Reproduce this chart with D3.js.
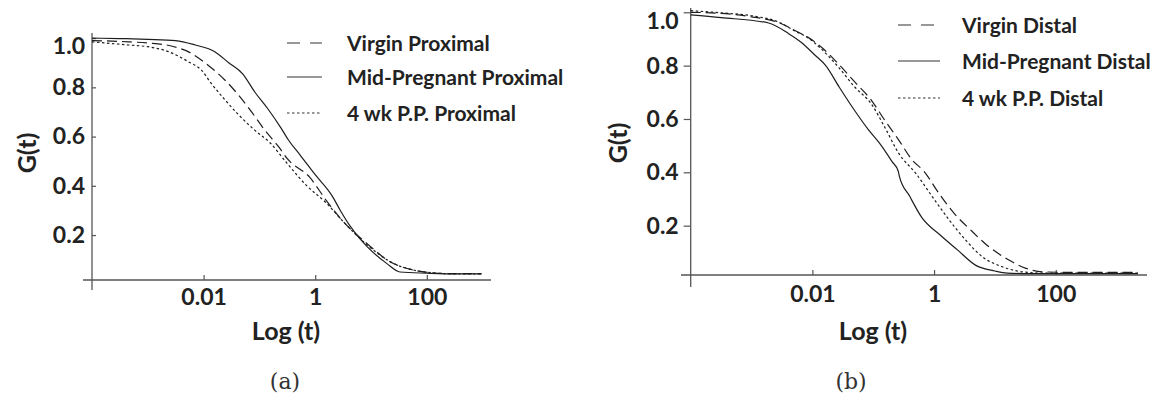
<!DOCTYPE html>
<html>
<head>
  <meta charset="utf-8">
  <title>G(t) proximal / distal</title>
  <script src="https://d3js.org/d3.v7.min.js"></script>
  <style>
    body { margin: 0; background: #fff; }
    .tick text, .lab { font-family: Lato, "Open Sans", sans-serif; font-weight: 700; fill: #222; }
    .cap { font-family: "DejaVu Serif", serif; font-weight: 400; fill: #333; }
    .curve { fill: none; stroke: #1e1e1e; stroke-width: 1.2px; }
  </style>
</head>
<body>
  <svg width="1163" height="408"></svg>
  <script>
    // values, x = log10(t)
    const xTickVals = [0.01, 1, 100];
    const xTickLabels = ["0.01", "1", "100"];
    const yTickVals = [0.2, 0.4, 0.6, 0.8, 1.0];
    const yTickLabels = ["0.2", "0.4", "0.6", "0.8", "1.0"];

    // panel (a) proximal
    const virginProxLogT = [-4, -3.35, -3.0, -2.58, -2.22, -1.92, -1.62, -1.38, -1.14, -0.9, -0.66, -0.5, -0.1, 0.2, 0.5, 0.93, 1.34, 1.76, 2.1, 2.5, 2.98];
    const virginProxG = [0.99, 0.985, 0.98, 0.968, 0.938, 0.89, 0.83, 0.77, 0.70, 0.625, 0.56, 0.51, 0.435, 0.34, 0.255, 0.165, 0.092, 0.058, 0.047, 0.043, 0.043];
    const midPregProxLogT = [-4, -3.5, -3.0, -2.5, -2.15, -1.8, -1.55, -1.3, -1.08, -0.84, -0.6, -0.48, -0.27, 0.0, 0.3, 0.45, 0.63, 0.93, 1.28, 1.52, 2.0, 2.5, 2.98];
    const midPregProxG = [1.0, 0.998, 0.995, 0.99, 0.972, 0.945, 0.9, 0.855, 0.78, 0.71, 0.63, 0.586, 0.525, 0.445, 0.36, 0.30, 0.235, 0.153, 0.085, 0.05, 0.045, 0.042, 0.042];
    const ppProxLogT = [-4, -3.35, -3.0, -2.63, -2.28, -2.04, -1.86, -1.62, -1.38, -1.08, -0.81, -0.5, -0.15, 0.2, 0.5, 0.93, 1.4, 1.76, 2.2, 2.6, 2.98];
    const ppProxG = [0.985, 0.972, 0.965, 0.945, 0.905, 0.87, 0.815, 0.75, 0.69, 0.625, 0.575, 0.49, 0.40, 0.33, 0.255, 0.16, 0.085, 0.058, 0.045, 0.042, 0.042];

    // panel (b) distal
    const virginDistLogT = [-4, -3.5, -2.94, -2.56, -2.28, -2.07, -1.85, -1.57, -1.3, -1.03, -0.81, -0.58, -0.36, -0.17, 0.08, 0.33, 0.6, 0.88, 1.23, 1.51, 1.78, 2.2, 2.6, 3.0, 3.35];
    const virginDistG = [1.0, 0.996, 0.981, 0.962, 0.931, 0.906, 0.869, 0.806, 0.738, 0.67, 0.595, 0.521, 0.446, 0.405, 0.321, 0.246, 0.184, 0.125, 0.071, 0.04, 0.027, 0.025, 0.025, 0.025, 0.025];
    const midPregDistLogT = [-4, -3.5, -2.72, -2.39, -2.18, -1.96, -1.78, -1.56, -1.3, -1.08, -0.9, -0.69, -0.59, -0.57, -0.4, -0.2, 0.1, 0.38, 0.68, 1.0, 1.2, 1.6, 2.0, 2.5, 3.0, 3.35];
    const midPregDistG = [0.99, 0.98, 0.96, 0.92, 0.887, 0.84, 0.80, 0.72, 0.63, 0.56, 0.51, 0.44, 0.405, 0.385, 0.31, 0.23, 0.165, 0.11, 0.052, 0.03, 0.022, 0.02, 0.02, 0.02, 0.02, 0.02];
    const ppDistLogT = [-4, -3.5, -2.94, -2.56, -2.28, -2.07, -1.85, -1.57, -1.3, -1.03, -0.81, -0.58, -0.3, -0.03, 0.25, 0.52, 0.79, 1.12, 1.45, 1.8, 2.5, 3.0, 3.35];
    const ppDistG = [1.006, 0.998, 0.985, 0.964, 0.929, 0.904, 0.862, 0.794, 0.719, 0.656, 0.569, 0.471, 0.396, 0.309, 0.221, 0.146, 0.084, 0.046, 0.027, 0.022, 0.022, 0.022, 0.022];

    const svg = d3.select("svg");
    const dashes = { virgin: "10,5", mid: null, pp: "2.5,2.5" };

    function drawPanel(p) {
      const g = svg.append("g");
      const x = d3.scaleLog().domain([1e-4, Math.pow(10, p.xMaxExp)]).range([p.left, p.right]);
      const y = d3.scaleLinear().domain([0, 1]).range(p.yRange);

      // axis lines, they run a bit past the corner
      g.append("line").attr("x1", p.xAxisStart).attr("x2", p.right)
        .attr("y1", p.axisY).attr("y2", p.axisY).attr("stroke", "#555").attr("stroke-width", 1.3);
      g.append("line").attr("x1", p.left).attr("x2", p.left)
        .attr("y1", p.yAxisTop).attr("y2", p.yAxisBottom).attr("stroke", "#555").attr("stroke-width", 1.3);

      const xa = g.append("g").attr("transform", `translate(0,${p.axisY})`)
        .call(d3.axisBottom(x).tickValues(xTickVals).tickSizeInner(-5).tickSizeOuter(0)
          .tickPadding(p.xPad).tickFormat((d, i) => xTickLabels[i]));
      const ya = g.append("g").attr("transform", `translate(${p.left},0)`)
        .call(d3.axisLeft(y).tickValues(yTickVals).tickSizeInner(p.yTick).tickSizeOuter(0)
          .tickPadding(p.yPad).tickFormat((d, i) => yTickLabels[i]));
      [xa, ya].forEach(a => {
        a.select(".domain").remove();
        a.selectAll(".tick line").attr("stroke", "#555").attr("stroke-width", 1.2);
        a.selectAll(".tick text").style("font-size", "23px");
      });
      // the top label sits a little below its tick in the original
      ya.selectAll(".tick text").filter(d => d === 1).attr("y", p.topLabelShift);

      const line = d3.line().x(d => x(d[0])).y(d => y(d[1])).curve(d3.curveMonotoneX);
      p.series.forEach(s => {
        const pts = s.logT.map((e, i) => [Math.pow(10, e), s.g[i]]);
        g.append("path").attr("class", "curve").attr("d", line(pts))
          .attr("stroke-dasharray", dashes[s.kind]);
      });

      // legend
      p.series.forEach((s, i) => {
        const ly = p.legendY[i];
        g.append("line").attr("x1", p.legendX[0]).attr("x2", p.legendX[1])
          .attr("y1", ly).attr("y2", ly).attr("stroke", "#333").attr("stroke-width", 1.2)
          .attr("stroke-dasharray", s.kind === "virgin" ? "13,10" : dashes[s.kind]);
        g.append("text").attr("class", "lab").attr("x", p.legendX[2]).attr("y", ly + 7.5)
          .style("font-size", "21px").text(s.name);
      });

      g.append("text").attr("class", "lab").attr("text-anchor", "middle")
        .attr("transform", `translate(${p.gtX},${p.gtY}) rotate(-90)`)
        .attr("dy", "0.35em").style("font-size", "25px").text("G(t)");
      g.append("text").attr("class", "lab").attr("text-anchor", "middle")
        .attr("x", p.midX).attr("y", 340).style("font-size", "25px").text("Log (t)");
      g.append("text").attr("class", "cap").attr("text-anchor", "middle")
        .attr("x", p.capX).attr("y", 389).style("font-size", "22px").text(p.cap);
    }

    drawPanel({
      left: 92, right: 491, xMaxExp: 3.15, yRange: [284.3, 38.1],
      axisY: 280, xAxisStart: 83, yAxisTop: 33, yAxisBottom: 290,
      xPad: 9, yTick: -4, yPad: 7, topLabelShift: 8,
      legendX: [287, 322, 347], legendY: [43, 77, 113],
      gtX: 27, gtY: 153, midX: 286, capX: 285, cap: "(a)",
      series: [
        { kind: "virgin", name: "Virgin Proximal", logT: virginProxLogT, g: virginProxG },
        { kind: "mid", name: "Mid-Pregnant Proximal", logT: midPregProxLogT, g: midPregProxG },
        { kind: "pp", name: "4 wk P.P. Proximal", logT: ppProxLogT, g: ppProxG }
      ]
    });

    drawPanel({
      left: 690.7, right: 1147, xMaxExp: 3.5, yRange: [279, 12.3],
      axisY: 275, xAxisStart: 681, yAxisTop: 8, yAxisBottom: 287,
      xPad: 11, yTick: 7, yPad: 5, topLabelShift: 9,
      legendX: [898, 940, 962], legendY: [25, 61, 98],
      gtX: 618, gtY: 143, midX: 873, capX: 851, cap: "(b)",
      series: [
        { kind: "virgin", name: "Virgin Distal", logT: virginDistLogT, g: virginDistG },
        { kind: "mid", name: "Mid-Pregnant Distal", logT: midPregDistLogT, g: midPregDistG },
        { kind: "pp", name: "4 wk P.P. Distal", logT: ppDistLogT, g: ppDistG }
      ]
    });
  </script>
</body>
</html>
